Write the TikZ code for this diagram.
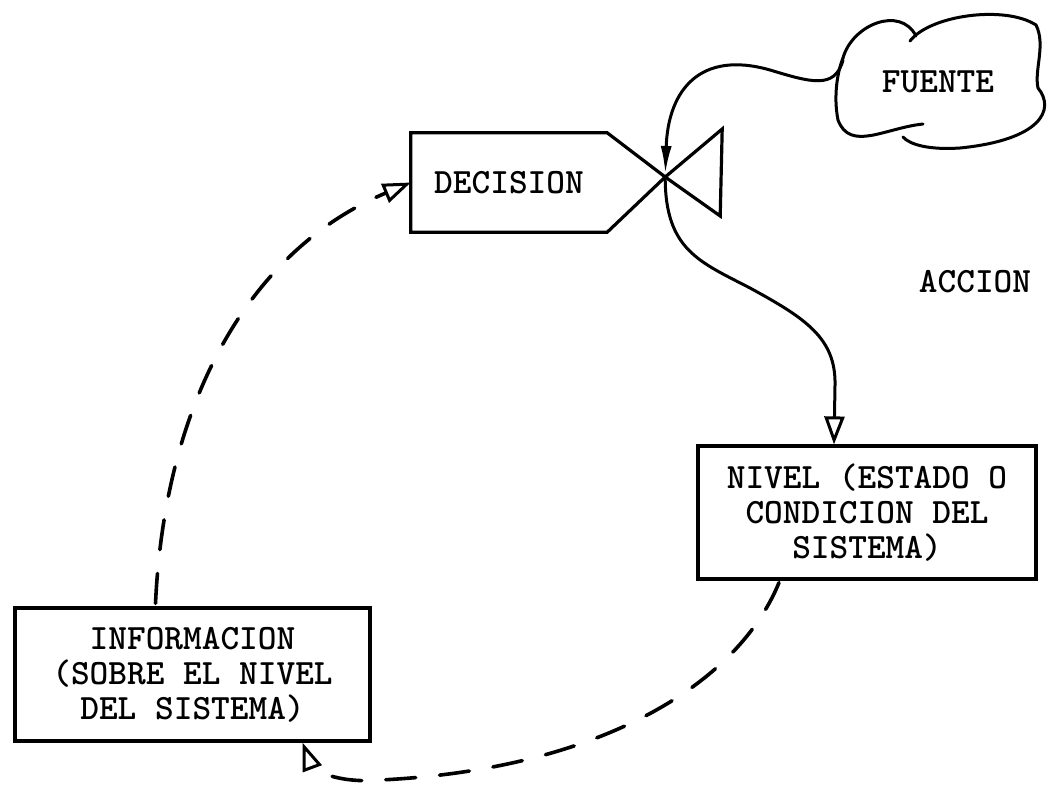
\documentclass[tikz,border=0pt]{standalone}
\usepackage{fontspec}
\newfontfamily\typew{lmmonolt10-bold.otf}
\newcommand\typewtext{\typew\fontsize{35.6}{35}\selectfont}
\usetikzlibrary{arrows.meta,calc}
\begin{document}
\begin{tikzpicture}[x=1pt,y=-1pt,
  boxline/.style={line width=3.2pt},
  box/.style={draw, boxline, inner sep=0pt, align=center, font=\typewtext},
  lbl/.style={font=\typewtext, inner sep=0pt},
  flow/.style={line width=3pt, line cap=round},
  infoline/.style={line width=3.6pt, line cap=round, dash pattern=on 30pt off 24pt},
  opentip/.style={-{Triangle[open, length=28pt, width=20pt, line width=3pt]}},
  solidtip/.style={-{Latex[length=28pt, width=11pt]}}
]
\fill[white] (0,0) rectangle (1048,784);
\useasboundingbox (0,0) rectangle (1048,784);

% decision box with the flow valve at its pointed end
\node[lbl, minimum width=196pt, minimum height=99pt] (dec) at (509,182.5) {DECISION};
\coordinate (valve) at ($(dec.east)+(58,-5.5)$);
\draw[boxline] (dec.north west) -- (dec.north east) -- (valve)
  -- (dec.south east) -- (dec.south west) -- cycle;
\draw[boxline] (valve) -- ++(57,-48) -- ++(-2,87) -- cycle;

% source cloud
\node[lbl] (src) at (938,82) {FUENTE};
\draw[line width=3pt, line cap=round]
  (843,58) .. controls (852,25) and (900,5) .. (916,36)
  (910,41) .. controls (930,15) and (1005,5) .. (1036,25)
  .. controls (1046,45) and (1034,70) .. (1038,88)
  .. controls (1056,110) and (1040,140) .. (960,148)
  .. controls (930,150) and (910,145) .. (903,137);
\draw[line width=3pt, line cap=round]
  (923,124) .. controls (885,128) and (850,152) .. (838,120)
  .. controls (833,95) and (838,70) .. (843,58);
\coordinate (srcout) at ($(src)+(-95,-22)$);

% level and information boxes
\node[box, minimum width=338pt, minimum height=133pt] (nivel) at (867,512.5)
  {NIVEL (ESTADO O\\CONDICION DEL\\SISTEMA)};
\node[box, minimum width=355pt, minimum height=133pt] (info) at (192.5,674.5)
  {INFORMACION\\(SOBRE EL NIVEL\\DEL SISTEMA)};
\node[lbl] (accion) at (975,282) {ACCION};

% material flow: source -> valve -> level
\draw[flow, solidtip, shorten >=3pt] (srcout) .. controls (835,90) and (810,82) .. (770,70)
  .. controls (700,50) and (668,90) .. (valve);
\draw[flow, opentip] (valve) .. controls (665,250) and (700,262) .. (750,288)
  .. controls (805,318) and (836,338) .. (835,385)
  -- ($(nivel.north)+(-33,0)$);

% information feedback loop
\draw[infoline, opentip] ($(nivel.south)+(-88,2)$)
  .. controls (735,690) and (590,770) .. (380,780)
  .. controls (335,784) and (312,768) .. ($(info.south)+(110,0)$);
\draw[infoline, opentip] ($(info.north)+(-37,-3)$)
  .. controls (165,400) and (250,250) .. (dec.west);
\end{tikzpicture}
\end{document}
